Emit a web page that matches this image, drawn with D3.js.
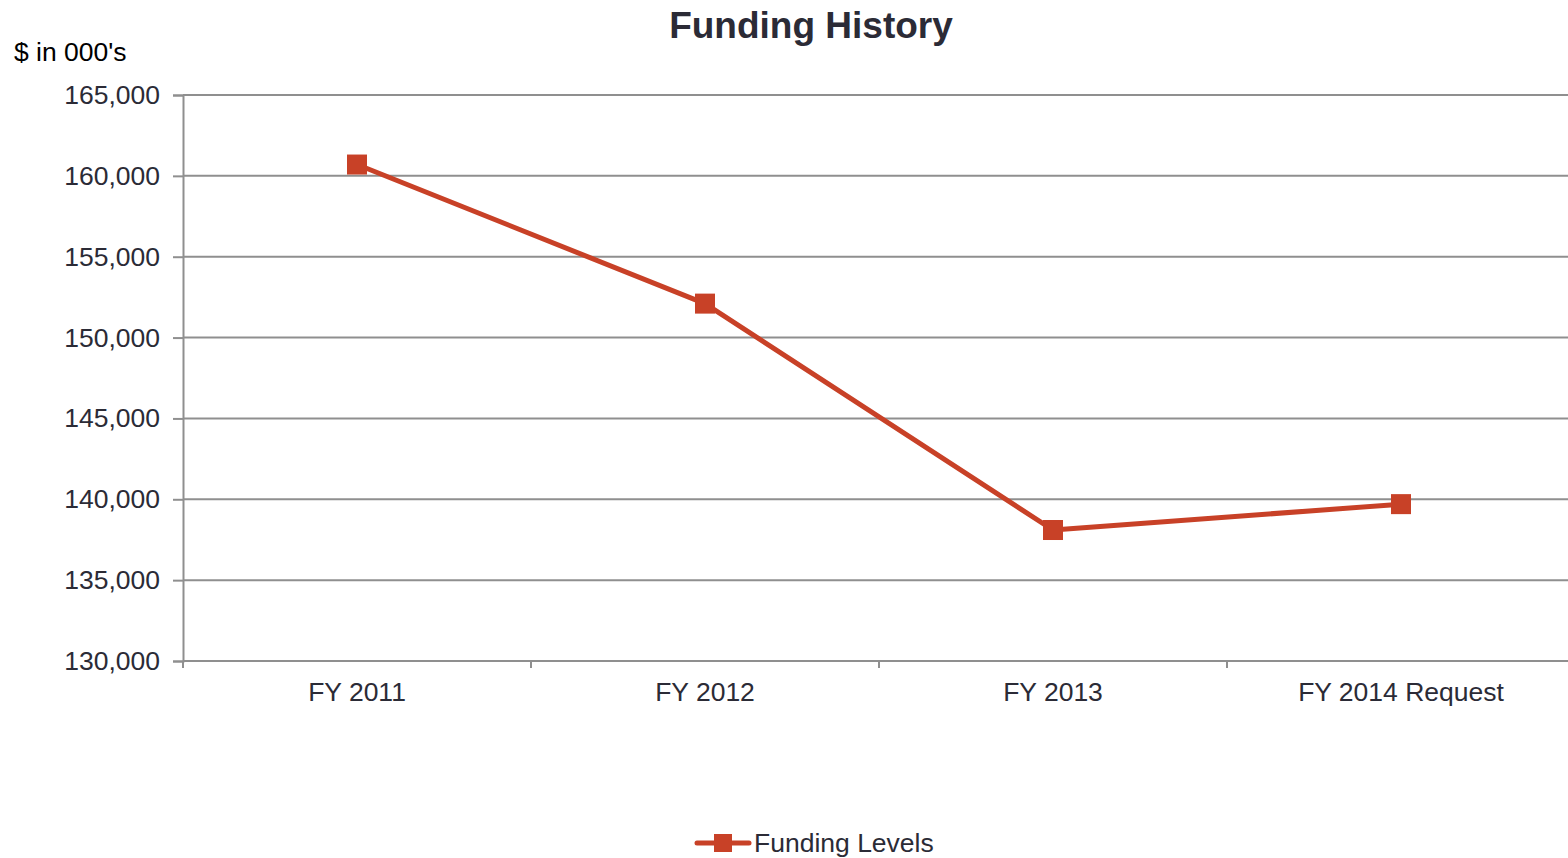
<!DOCTYPE html>
<html><head><meta charset="utf-8">
<script src="https://cdn.jsdelivr.net/npm/d3@7"></script>
<style>
html,body{margin:0;padding:0;background:#fff;}
svg{display:block;font-family:"Liberation Sans",Arial,sans-serif;}
</style></head>
<body><svg id="c" width="1568" height="858"></svg>
<script>
const categories = ["FY 2011", "FY 2012", "FY 2013", "FY 2014 Request"];
const fundingLevels = [160700, 152100, 138100, 139700];
const yTicks = [130000, 135000, 140000, 145000, 150000, 155000, 160000, 165000];
const seriesName = "Funding Levels";

const svg = d3.select("#c");
const W = 1568, H = 858;
const m = {left: 183, right: 1575, top: 95, bottom: 661};
const textColor = "#2b2b36";
const gridColor = "#8f8f8f";
const lineColor = "#c84127";
const fs = "26.5px";

const x = d3.scaleBand().domain(categories).range([m.left, m.right]).padding(0);
const y = d3.scaleLinear().domain([130000, 165000]).range([m.bottom, m.top]);

// gridlines
svg.append("g").selectAll("line").data(yTicks.filter(t => t > 130000)).join("line")
  .attr("x1", m.left).attr("x2", W)
  .attr("y1", d => y(d)).attr("y2", d => y(d))
  .attr("stroke", gridColor).attr("stroke-width", 2);

// y axis
const yAxis = svg.append("g").attr("transform", `translate(${m.left},0)`)
  .call(d3.axisLeft(y).tickValues(yTicks).tickSize(10).tickPadding(13).tickFormat(d3.format(",")));
yAxis.select(".domain").attr("stroke", gridColor).attr("stroke-width", 2);
yAxis.selectAll(".tick line").attr("stroke", gridColor).attr("stroke-width", 2);
yAxis.selectAll("text").attr("fill", textColor).style("font-size", fs)
  .style("font-family", "'Liberation Sans', Arial, sans-serif");

// x axis
const xAxis = svg.append("g").attr("transform", `translate(0,${m.bottom})`)
  .call(d3.axisBottom(x).tickSize(0).tickPadding(21));
xAxis.select(".domain").attr("stroke", gridColor).attr("stroke-width", 2).attr("d", `M${m.left},0H${W}`);
xAxis.selectAll("text").attr("fill", textColor).style("font-size", fs)
  .style("font-family", "'Liberation Sans', Arial, sans-serif");
// category boundary ticks
const bounds = categories.map(c => x(c));
svg.append("g").selectAll("line").data(bounds).join("line")
  .attr("x1", d => d).attr("x2", d => d)
  .attr("y1", m.bottom).attr("y2", m.bottom + 7)
  .attr("stroke", gridColor).attr("stroke-width", 2);

// line
const cx = c => x(c) + x.bandwidth() / 2;
const data = categories.map((c, i) => ({c, v: fundingLevels[i]}));
svg.append("path").datum(data)
  .attr("fill", "none").attr("stroke", lineColor).attr("stroke-width", 5)
  .attr("stroke-linejoin", "round")
  .attr("d", d3.line().x(d => cx(d.c)).y(d => y(d.v)));
svg.append("g").selectAll("rect").data(data).join("rect")
  .attr("x", d => cx(d.c) - 10).attr("y", d => y(d.v) - 10)
  .attr("width", 20).attr("height", 20).attr("fill", lineColor);

// title
svg.append("text").attr("x", 811).attr("y", 38).attr("text-anchor", "middle")
  .attr("fill", textColor).style("font-size", "37px").style("font-weight", "bold")
  .text("Funding History");
svg.append("text").attr("x", 14).attr("y", 61)
  .attr("fill", "#000").style("font-size", fs).text("$ in 000's");

// legend
const ly = 843;
svg.append("line").attr("x1", 697).attr("x2", 749).attr("y1", ly).attr("y2", ly)
  .attr("stroke", lineColor).attr("stroke-width", 5).attr("stroke-linecap", "round");
svg.append("rect").attr("x", 714).attr("y", ly - 9).attr("width", 18).attr("height", 18).attr("fill", lineColor);
svg.append("text").attr("x", 754).attr("y", ly + 9).attr("fill", textColor)
  .style("font-size", fs).text(seriesName);
</script></body></html>
